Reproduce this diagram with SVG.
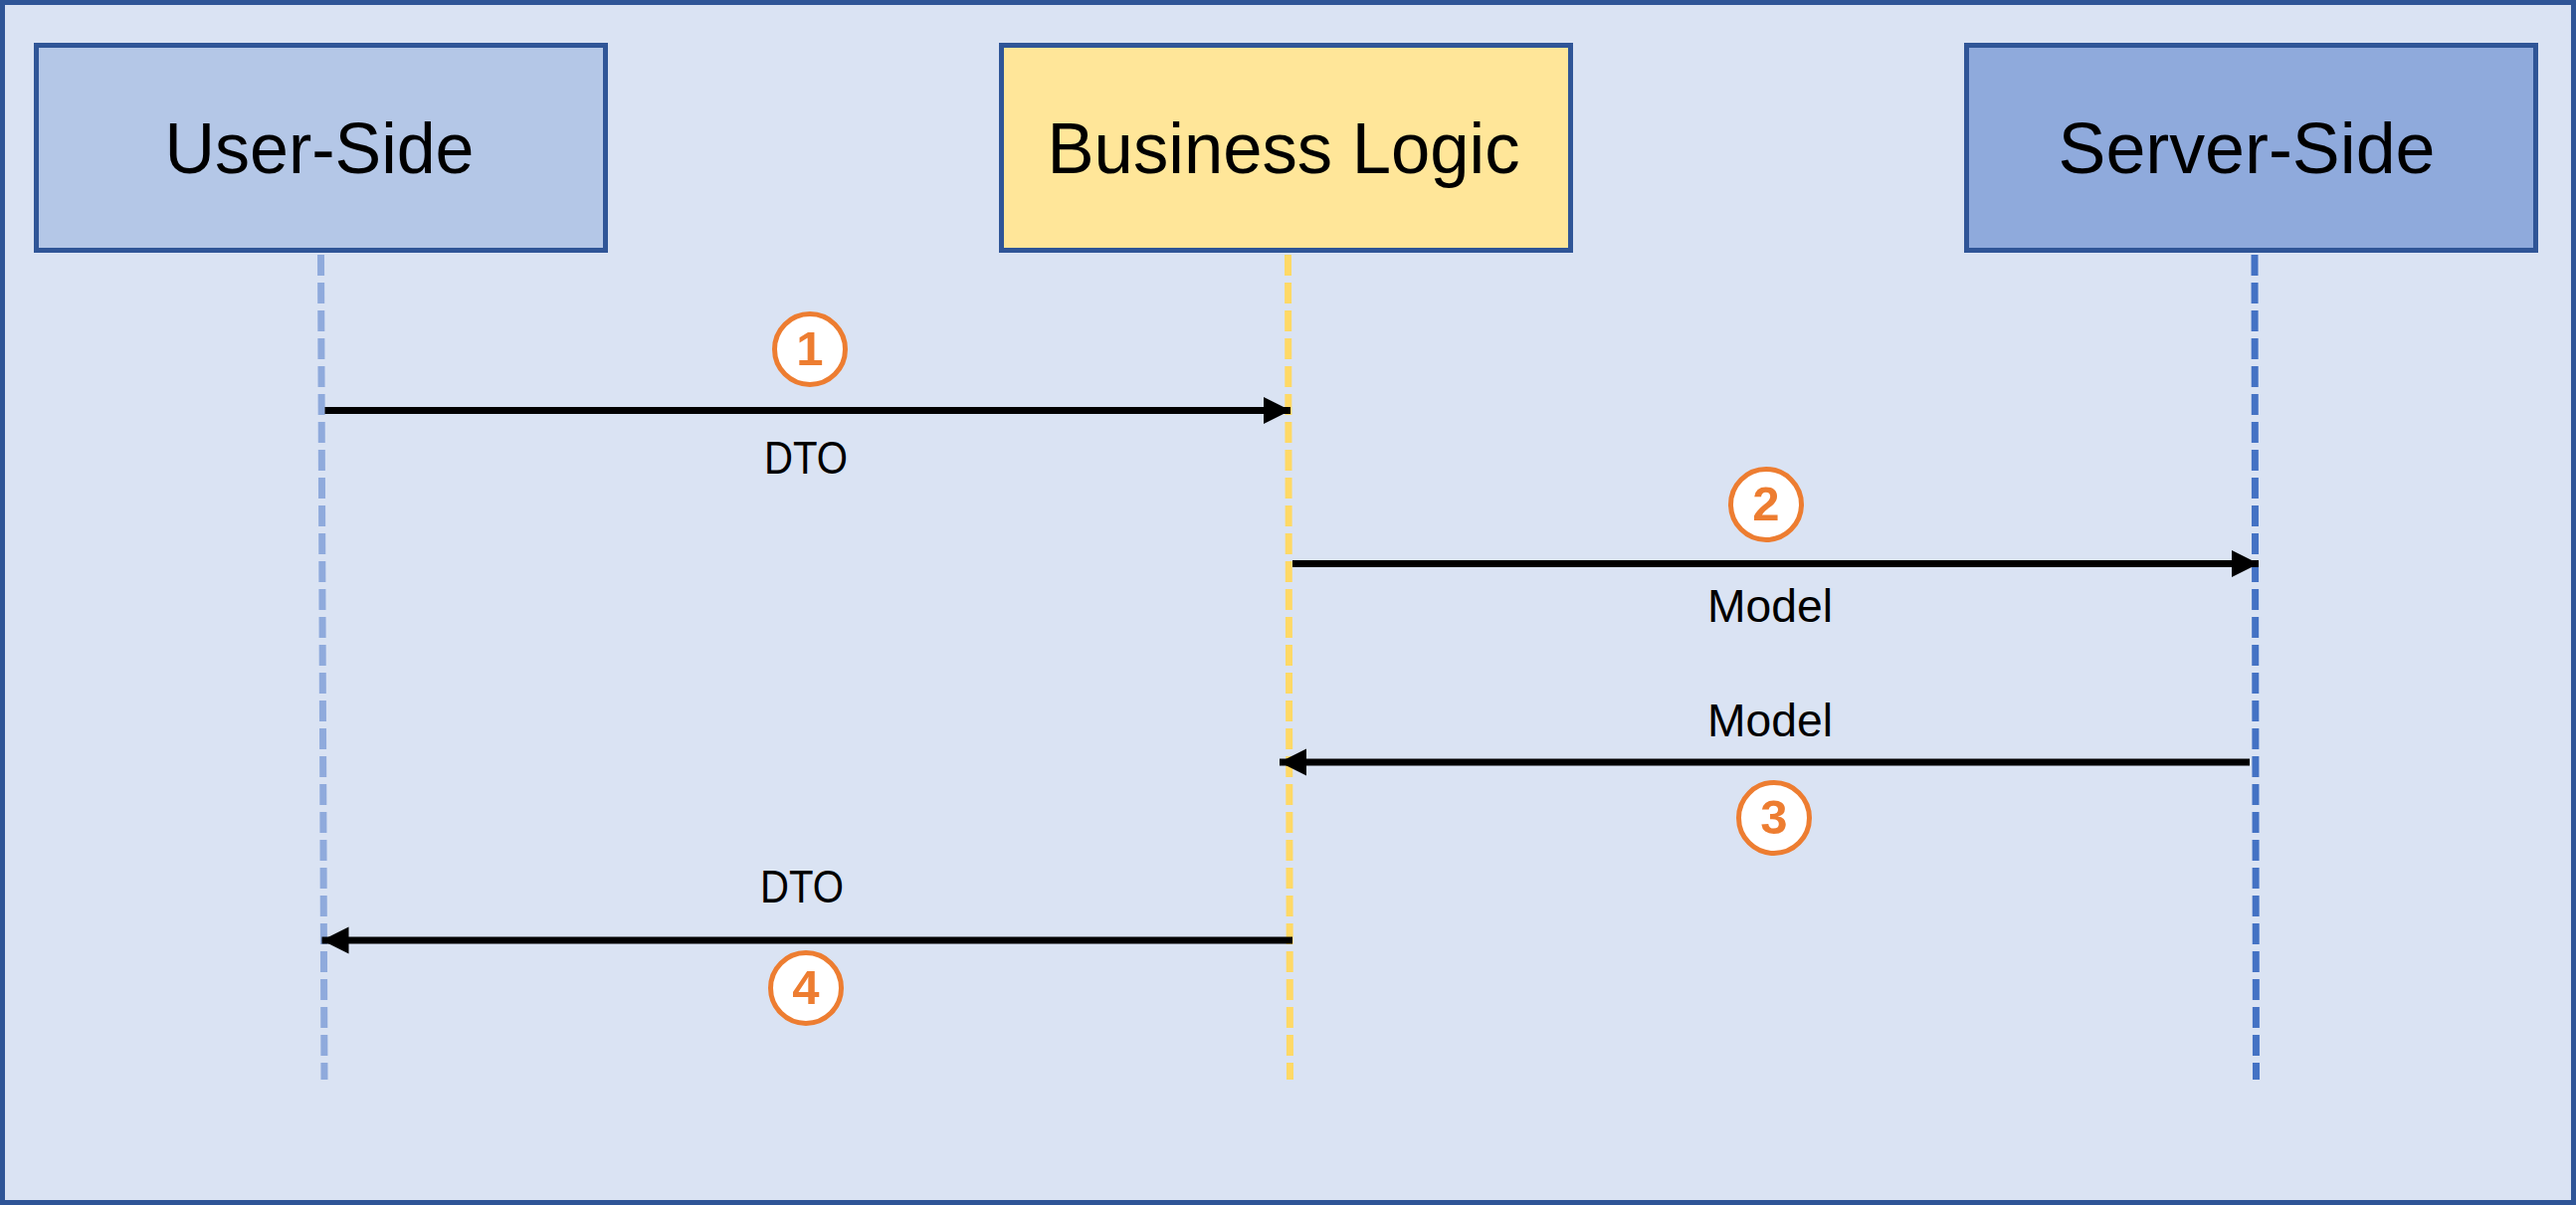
<svg xmlns="http://www.w3.org/2000/svg" width="2589" height="1211" viewBox="0 0 2589 1211">
  <style>
    .frame { fill: #dae3f3; stroke: #2f5597; stroke-width: 5; }
    .box { stroke: #2f5597; stroke-width: 5; }
    .title { font-family: "Liberation Sans", Arial, sans-serif; font-size: 73px; fill: #000; text-anchor: middle; }
    .lbl { font-family: "Liberation Sans", Arial, sans-serif; font-size: 46px; fill: #000; text-anchor: middle; }
    .life { stroke-width: 7; stroke-dasharray: 21 7; fill: none; }
    .msg { stroke: #000; stroke-width: 7; fill: none; }
    .step circle { fill: #ffffff; stroke: #ed7d31; stroke-width: 5; }
    .step text { font-family: "Liberation Sans", Arial, sans-serif; font-weight: bold; font-size: 49px; fill: #ed7d31; text-anchor: middle; }
  </style>
  <defs>
    <marker id="arrow" markerUnits="userSpaceOnUse" markerWidth="28" markerHeight="28" viewBox="0 0 28 28" refX="27" refY="14" orient="auto">
      <path d="M0,0.5 L27,14 L0,27.5 Z" fill="#000"/>
    </marker>
  </defs>

  <rect class="frame" x="2.5" y="2.5" width="2584" height="1206"/>

  <g id="lifelines">
    <line class="life" x1="322.5" y1="256" x2="326" y2="1085" stroke="#8faadc"/>
    <line class="life" x1="1294.5" y1="256" x2="1296.5" y2="1085" stroke="#ffd966"/>
    <line class="life" x1="2266" y1="256" x2="2267.5" y2="1085" stroke="#4472c4"/>
  </g>

  <g id="user-side">
    <rect class="box" x="36.5" y="45.5" width="572" height="206" fill="#b4c7e7"/>
    <text class="title" x="321" y="174" textLength="311" lengthAdjust="spacingAndGlyphs">User-Side</text>
  </g>

  <g id="business-logic">
    <rect class="box" x="1006.5" y="45.5" width="572" height="206" fill="#ffe699"/>
    <text class="title" x="1290" y="174" textLength="475" lengthAdjust="spacingAndGlyphs">Business Logic</text>
  </g>

  <g id="server-side">
    <rect class="box" x="1976.5" y="45.5" width="572" height="206" fill="#8faadc"/>
    <text class="title" x="2258" y="174" textLength="379" lengthAdjust="spacingAndGlyphs">Server-Side</text>
  </g>

  <g id="connectors">
    <line class="msg" x1="326.5" y1="412.5" x2="1297" y2="412.5" marker-end="url(#arrow)"/>
    <line class="msg" x1="1299" y1="566.5" x2="2270" y2="566.5" marker-end="url(#arrow)"/>
    <line class="msg" x1="2261" y1="766" x2="1286" y2="766" marker-end="url(#arrow)"/>
    <line class="msg" x1="1299" y1="945" x2="323.5" y2="945" marker-end="url(#arrow)"/>
  </g>

  <g id="labels">
    <text class="lbl" x="810" y="476" textLength="84" lengthAdjust="spacingAndGlyphs">DTO</text>
    <text class="lbl" x="1779" y="625" textLength="126" lengthAdjust="spacingAndGlyphs">Model</text>
    <text class="lbl" x="1779" y="740" textLength="126" lengthAdjust="spacingAndGlyphs">Model</text>
    <text class="lbl" x="806" y="907" textLength="84" lengthAdjust="spacingAndGlyphs">DTO</text>
  </g>

  <g id="step-1" class="step">
    <circle cx="814" cy="351" r="35.5"/>
    <text x="814" y="367">1</text>
  </g>
  <g id="step-2" class="step">
    <circle cx="1775" cy="507" r="35.5"/>
    <text x="1775" y="523">2</text>
  </g>
  <g id="step-3" class="step">
    <circle cx="1783" cy="822" r="35.5"/>
    <text x="1783" y="838">3</text>
  </g>
  <g id="step-4" class="step">
    <circle cx="810" cy="993" r="35.5"/>
    <text x="810" y="1009">4</text>
  </g>
</svg>
